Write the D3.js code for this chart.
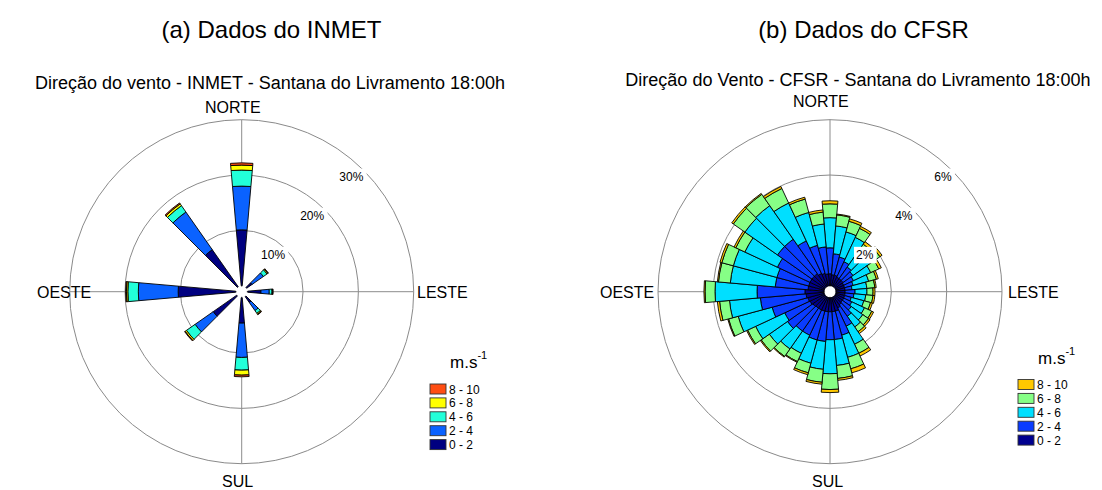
<!DOCTYPE html>
<html><head><meta charset="utf-8">
<script src="https://cdn.jsdelivr.net/npm/d3@7"></script>
<style>
body{margin:0;background:#fff}
svg{display:block}
text{font-family:"Liberation Sans",Arial,Helvetica,sans-serif;fill:#000}
</style>
</head><body>
<svg id="chart" width="1102" height="490"></svg>
<script>
// ---------------- DATA ----------------
const speedClasses = ["0 - 2", "2 - 4", "4 - 6", "6 - 8", "8 - 10"];

// (a) INMET — frequency (%) per direction and speed class
const inmetDirections = [0, 50, 90, 140, 180, 230, 270, 320];
const inmet_0_2  = [10.1, 1.2, 2.4, 1.3, 4.6, 5.2, 10.4, 8.2];
const inmet_2_4  = [7.9, 2.5, 1.5, 1.8, 6.2, 4.0, 7.2, 8.3];
const inmet_4_6  = [2.9, 0.8, 0.5, 0.6, 2.3, 1.9, 1.9, 1.4];
const inmet_6_8  = [0.9, 0.2, 0.1, 0.2, 0.9, 0.3, 0.25, 0.4];
const inmet_8_10 = [0.4, 0.1, 0.1, 0.1, 0.3, 0.1, 0.15, 0.2];
const inmetTicks = [10, 20, 30];
const inmetTickLabels = ["10%", "20%", "30%"];

// (b) CFSR — frequency (%) per direction and speed class
const cfsrDirections = [0, 10, 20, 30, 40, 50, 60, 70, 80, 90, 100, 110, 120, 130, 140, 150, 160, 170,
                        180, 190, 200, 210, 220, 230, 240, 250, 260, 270, 280, 290, 300, 310, 320, 330, 340, 350];
const cfsr_0_2  = [.43, .40, .40, .36, .36, .36, .33, .33, .33, .33, .33, .33, .33, .33, .36, .43, .51, .51,
                   .51, .51, .51, .51, .51, .54, .58, .61, .65, .69, .58, .58, .58, .58, .58, .51, .47, .43];
const cfsr_2_4  = [.94, .76, .68, .62, .51, .44, .39, .32, .25, .36, .32, .25, .32, .39, .51, .73, .90, 1.01,
                   1.01, 1.08, 1.08, 1.01, 1.01, 1.12, 1.01, 1.34, 1.66, 1.73, 1.19, 1.19, 1.30, 1.52, 1.52, 1.30, 1.05, .98];
const cfsr_4_6  = [1.09, 1.01, .94, .97, .72, .79, .69, .58, .54, .43, .43, .47, .51, .51, .47, .72, .83, .94,
                   1.23, 1.01, .87, .72, .79, .80, 1.16, 1.27, 1.12, 1.52, 1.63, 1.63, 1.30, 1.44, 1.48, 1.51, 1.23, .83];
const cfsr_6_8  = [.50, .40, .40, .36, .29, .40, .32, .29, .29, .22, .26, .25, .29, .25, .21, .36, .43, .47,
                   .57, .47, .36, .33, .33, .36, .32, .36, .36, .36, .43, .43, .36, .51, .50, .58, .50, .43];
const cfsr_8_10 = [.11, .03, .09, .08, .11, .09, .10, .07, .05, .07, .07, .07, .07, .07, .08, .11, .15, .07,
                   .11, .07, .07, .03, .03, .04, .04, .03, .08, .04, .04, .07, .07, .07, .04, .08, .07, .08];
const cfsrTicks = [2, 4, 6];
const cfsrTickLabels = ["2%", "4%", "6%"];

const inmetColors = ["#000080", "#0a62ff", "#22ffd9", "#ffff00", "#ff4d12"];
const cfsrColors  = ["#00008f", "#0a3cff", "#00dfff", "#86ff86", "#ffc800"];

// ---------------- DRAWING ----------------
const svg = d3.select("#chart");
const R = 172, HOLE = 6;

function drawRose(opt) {
  const g = svg.append("g").attr("transform", `translate(${opt.cx},${opt.cy})`);
  const vmax = opt.ticks[opt.ticks.length - 1];
  const r = d3.scaleLinear().domain([0, vmax]).range([HOLE, R]);

  // axis lines
  g.append("line").attr("x1", -R).attr("x2", R).attr("y1", 0).attr("y2", 0)
    .attr("stroke", "#6e6e6e").attr("stroke-width", 0.8);
  g.append("line").attr("x1", 0).attr("x2", 0).attr("y1", -R).attr("y2", R)
    .attr("stroke", "#6e6e6e").attr("stroke-width", 0.8);
  // circles
  g.selectAll("circle.grid").data(opt.ticks).enter().append("circle")
    .attr("class", "grid").attr("r", d => r(d))
    .attr("fill", "none").attr("stroke", "#8a8a8a").attr("stroke-width", 1);

  // bars
  const arc = d3.arc();
  const half = opt.halfWidth * Math.PI / 180;
  const segs = [];
  opt.dirs.forEach((dir, i) => {
    let cum = 0;
    opt.series.forEach((s, k) => {
      const v = s[i];
      const a = dir * Math.PI / 180;
      segs.push({inner: r(cum), outer: r(cum + v), start: a - half, end: a + half, k});
      cum += v;
    });
  });
  g.selectAll("path.bar").data(segs).enter().append("path")
    .attr("class", "bar")
    .attr("d", d => arc({innerRadius: d.inner, outerRadius: d.outer, startAngle: d.start, endAngle: d.end}))
    .attr("fill", d => opt.colors[d.k])
    .attr("stroke", "#000").attr("stroke-width", 0.9).attr("stroke-linejoin", "miter");

  g.append("circle").attr("r", HOLE - 1).attr("fill", "#fff");

  // tick labels with white boxes
  opt.ticks.forEach((t, i) => {
    const rr = r(t) * Math.SQRT1_2;
    const lab = g.append("g");
    const txt = lab.append("text").attr("x", rr).attr("y", -rr + 11)
      .attr("text-anchor", "end").attr("font-size", 12).text(opt.tickLabels[i]);
    const bb = txt.node().getBBox();
    lab.insert("rect", "text").attr("x", bb.x - 2).attr("y", -rr - 1.5)
      .attr("width", bb.width + 5).attr("height", 16.5).attr("fill", "#fff");
  });

  // compass labels
  const fs = 16;
  opt.compass.forEach(c => {
    svg.append("text").attr("x", c.x).attr("y", c.y).attr("font-size", fs)
      .attr("text-anchor", c.anchor || "start").text(c.t);
  });

  // titles
  svg.append("text").attr("x", opt.titleX).attr("y", 38).attr("font-size", 24)
    .attr("text-anchor", "middle").text(opt.title);
  svg.append("text").attr("x", opt.subX).attr("y", opt.subY).attr("font-size", 18)
    .attr("text-anchor", "middle").text(opt.subtitle);

  // legend
  const lg = svg.append("g");
  const ttl = lg.append("text").attr("x", opt.legX + 20).attr("y", opt.legY - 16).attr("font-size", 17);
  ttl.append("tspan").text("m.s");
  ttl.append("tspan").attr("dy", -9).attr("font-size", 11).text("-1");
  const order = [4, 3, 2, 1, 0];
  order.forEach((k, j) => {
    const y = opt.legY + j * 13.9;
    lg.append("rect").attr("x", opt.legX).attr("y", y).attr("width", 16).attr("height", 10)
      .attr("fill", opt.colors[k]).attr("stroke", "#333").attr("stroke-width", 0.9);
    lg.append("text").attr("x", opt.legX + 19).attr("y", y + 9.5).attr("font-size", 12).text(speedClasses[k]);
  });
}

drawRose({
  cx: 241.7, cy: 291.7, dirs: inmetDirections, halfWidth: 5,
  series: [inmet_0_2, inmet_2_4, inmet_4_6, inmet_6_8, inmet_8_10],
  colors: inmetColors, ticks: inmetTicks, tickLabels: inmetTickLabels,
  compass: [
    {t: "NORTE", x: 205, y: 113},
    {t: "SUL", x: 222, y: 487},
    {t: "OESTE", x: 37, y: 298},
    {t: "LESTE", x: 417, y: 298}
  ],
  title: "(a) Dados do INMET", titleX: 271.5,
  subtitle: "Direção do vento - INMET - Santana do Livramento 18:00h", subX: 270, subY: 89,
  legX: 430, legY: 384
});

drawRose({
  cx: 830, cy: 291.7, dirs: cfsrDirections, halfWidth: 5,
  series: [cfsr_0_2, cfsr_2_4, cfsr_4_6, cfsr_6_8, cfsr_8_10],
  colors: cfsrColors, ticks: cfsrTicks, tickLabels: cfsrTickLabels,
  compass: [
    {t: "NORTE", x: 793, y: 107},
    {t: "SUL", x: 812, y: 487},
    {t: "OESTE", x: 600, y: 298},
    {t: "LESTE", x: 1008, y: 298}
  ],
  title: "(b) Dados do CFSR", titleX: 863.5,
  subtitle: "Direção do Vento - CFSR - Santana do Livramento 18:00h", subX: 858, subY: 86,
  legX: 1018, legY: 379.5
});
</script>
</body></html>
